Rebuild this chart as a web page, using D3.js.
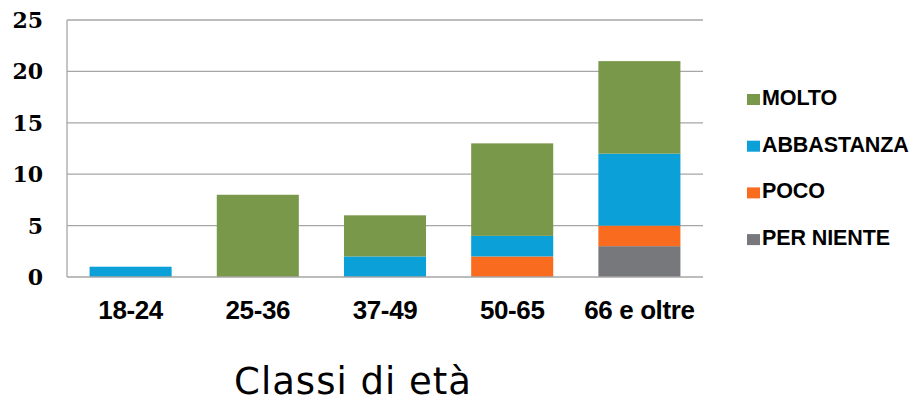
<!DOCTYPE html>
<html>
<head>
<meta charset="utf-8">
<script src="https://cdn.jsdelivr.net/npm/d3@7"></script>
<style>
  body { margin: 0; background: #fff; }
  svg { display: block; }
</style>
</head>
<body>
<svg width="916" height="409"></svg>
<script>
// age classes on the x axis
var categories = ["18-24", "25-36", "37-49", "50-65", "66 e oltre"];
// series, bottom to top of each stack
var seriesNames = ["PER NIENTE", "POCO", "ABBASTANZA", "MOLTO"];
var perNiente  = [0, 0, 0, 0, 3];
var poco       = [0, 0, 0, 2, 2];
var abbastanza = [1, 0, 2, 2, 7];
var molto      = [0, 8, 4, 9, 9];
var yTicks = [0, 5, 10, 15, 20, 25];

var colors = {
  "PER NIENTE": "#77787b",
  "POCO": "#f96b1e",
  "ABBASTANZA": "#0ba0d8",
  "MOLTO": "#7a984a"
};

var svg = d3.select("svg"),
    margin = {left: 67, top: 20, right: 213, bottom: 132},
    width = 916 - margin.left - margin.right,
    height = 409 - margin.top - margin.bottom,
    g = svg.append("g").attr("transform", "translate(" + margin.left + "," + margin.top + ")");

var rows = categories.map(function(c, i) {
  return {cat: c, "PER NIENTE": perNiente[i], "POCO": poco[i], "ABBASTANZA": abbastanza[i], "MOLTO": molto[i]};
});

var x = d3.scaleBand().domain(categories).range([0, width]).paddingInner(0.355).paddingOuter(0.1775);
var y = d3.scaleLinear().domain([0, 25]).range([height, 0]);

// gridlines
g.selectAll("line.grid")
  .data(yTicks.slice(1))
  .enter().append("line")
    .attr("class", "grid")
    .attr("x1", 0).attr("x2", width)
    .attr("y1", function(d) { return y(d); })
    .attr("y2", function(d) { return y(d); })
    .attr("stroke", "#a6a6a6").attr("stroke-width", 1.3);

var stack = d3.stack().keys(seriesNames)(rows);

g.selectAll("g.series")
  .data(stack)
  .enter().append("g")
    .attr("class", "series")
    .attr("fill", function(d) { return colors[d.key]; })
  .selectAll("rect")
  .data(function(d) { return d; })
  .enter().append("rect")
    .attr("x", function(d) { return x(d.data.cat); })
    .attr("width", x.bandwidth())
    .attr("y", function(d) { return y(d[1]); })
    .attr("height", function(d) { return y(d[0]) - y(d[1]); });

// axes lines
g.append("line").attr("x1", 0).attr("x2", 0).attr("y1", 0).attr("y2", height)
  .attr("stroke", "#a6a6a6").attr("stroke-width", 1.3);
g.append("line").attr("x1", 0).attr("x2", width).attr("y1", height).attr("y2", height)
  .attr("stroke", "#a6a6a6").attr("stroke-width", 1.3);

// y tick labels
g.selectAll("text.ytick")
  .data(yTicks)
  .enter().append("text")
    .attr("class", "ytick")
    .attr("x", -24)
    .attr("y", function(d) { return y(d); })
    .attr("dy", "0.36em")
    .attr("text-anchor", "end")
    .style("font-family", "'DejaVu Serif', serif")
    .style("font-weight", "bold")
    .style("font-size", "22px")
    .text(function(d) { return d; });

// x tick labels
g.selectAll("text.xtick")
  .data(categories)
  .enter().append("text")
    .attr("class", "xtick")
    .attr("x", function(d) { return x(d) + x.bandwidth() / 2; })
    .attr("y", height + 42)
    .attr("text-anchor", "middle")
    .style("font-family", "'Liberation Sans', Arial, sans-serif")
    .style("font-weight", "bold")
    .style("font-size", "26px")
    .style("letter-spacing", "-0.4px")
    .text(function(d) { return d; });

// axis title
svg.append("text")
  .attr("x", 353)
  .attr("y", 394)
  .attr("text-anchor", "middle")
  .style("font-family", "'DejaVu Sans', sans-serif")
  .style("font-size", "37px")
  .style("letter-spacing", "1px")
  .text("Classi di età");

// legend, top entry is the last series
var legend = svg.append("g").attr("transform", "translate(747,0)");
var legendItems = seriesNames.slice().reverse();
legend.selectAll("rect")
  .data(legendItems)
  .enter().append("rect")
    .attr("x", 0)
    .attr("y", function(d, i) { return 94 + i * 46.7; })
    .attr("width", 13).attr("height", 11)
    .attr("fill", function(d) { return colors[d]; });
legend.selectAll("text")
  .data(legendItems)
  .enter().append("text")
    .attr("x", 15)
    .attr("y", function(d, i) { return 105 + i * 46.7; })
    .style("font-family", "'Liberation Sans', Arial, sans-serif")
    .style("font-weight", "bold")
    .style("font-size", "21.5px")
    .style("letter-spacing", "-0.1px")
    .text(function(d) { return d; });
</script>
</body>
</html>
